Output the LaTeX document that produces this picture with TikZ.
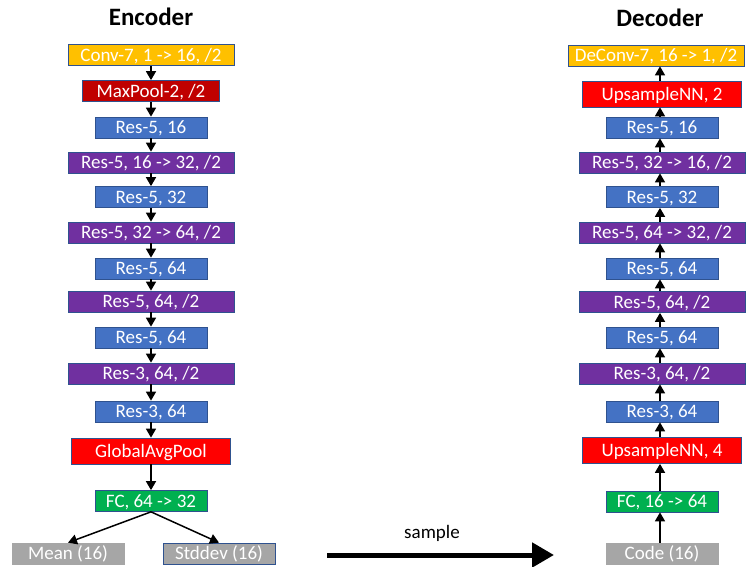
\documentclass[tikz,border=0pt]{standalone}
\usepackage{fontspec}
\setmainfont{Carlito}
\usepackage{tikz}
\usetikzlibrary{arrows.meta}
\definecolor{jaune}{RGB}{255,192,0}
\definecolor{rougef}{RGB}{192,0,0}
\definecolor{rouge}{RGB}{255,0,0}
\definecolor{bleu}{RGB}{68,114,196}
\definecolor{violet}{RGB}{112,48,160}
\definecolor{vert}{RGB}{0,176,80}
\definecolor{gris}{RGB}{166,166,166}
\definecolor{bord}{RGB}{47,82,143}
\tikzset{
  blk/.style={draw=bord, line width=0.7pt, text=white, inner sep=0pt,
    minimum height=21pt, text height=12.2pt, text depth=0pt,
    font=\fontsize{19}{20}\selectfont},
  narrow/.style={blk, minimum width=112pt},
  wide/.style={blk, minimum width=166pt},
  arr/.style={-{Triangle[length=9pt,width=10pt]}, line width=1.5pt},
  titre/.style={font=\fontsize{25}{26}\selectfont\bfseries},
}
\begin{document}
\begin{tikzpicture}[x=1pt,y=-1pt]
				\useasboundingbox (0,0) rectangle (748,567);
				% encoder
				\node[titre] (enc) at (151,17) {Encoder};
				\node[wide,fill=jaune] (conv) at (151,55) {Conv-7, 1 -> 16, /2};
				\node[blk,fill=rougef,minimum width=137pt] (pool) at (151,91) {MaxPool-2, /2};
				\node[narrow,fill=bleu] (r1) at (151,127.5) {Res-5, 16};
				\node[wide,fill=violet] (r2) at (151,162.5) {Res-5, 16 -> 32, /2};
				\node[narrow,fill=bleu] (r3) at (151,197) {Res-5, 32};
				\node[wide,fill=violet] (r4) at (151,232.5) {Res-5, 32 -> 64, /2};
				\node[narrow,fill=bleu] (r5) at (151,268.5) {Res-5, 64};
				\node[wide,fill=violet] (r6) at (151,301.5) {Res-5, 64, /2};
				\node[narrow,fill=bleu] (r7) at (151,337.5) {Res-5, 64};
				\node[wide,fill=violet] (r8) at (151,373.5) {Res-3, 64, /2};
				\node[narrow,fill=bleu] (r9) at (151,411.5) {Res-3, 64};
				\node[blk,fill=rouge,minimum width=159pt,minimum height=26pt] (gap) at (151,451) {GlobalAvgPool};
				\node[narrow,fill=vert] (fc) at (151,501) {FC, 64 -> 32};
				\node[narrow,fill=gris,draw=gris] (mean) at (68,553.5) {Mean (16)};
				\node[narrow,fill=gris] (std) at (219,553.5) {Stddev (16)};
				\foreach \a/\b in {conv/pool,pool/r1,r1/r2,r2/r3,r3/r4,r4/r5,r5/r6,r6/r7,r7/r8,r8/r9,r9/gap,gap/fc}
					\draw[arr] (\a) -- (\b);
				\draw[arr] (fc.south) -- (mean.north);
				\draw[arr] (fc.south) -- (std.north);
				% decoder
				\node[titre] (dec) at (660,18) {Decoder};
				\node[blk,fill=jaune,minimum width=176pt] (dconv) at (656,55.5) {DeConv-7, 16 -> 1, /2};
				\node[blk,fill=rouge,minimum width=159pt,minimum height=26pt] (up2) at (662,94) {UpsampleNN, 2};
				\node[narrow,fill=bleu] (d1) at (662,127.5) {Res-5, 16};
				\node[wide,fill=violet] (d2) at (662,162.5) {Res-5, 32 -> 16, /2};
				\node[narrow,fill=bleu] (d3) at (662,197) {Res-5, 32};
				\node[wide,fill=violet] (d4) at (662,232.5) {Res-5, 64 -> 32, /2};
				\node[narrow,fill=bleu] (d5) at (662,268.5) {Res-5, 64};
				\node[wide,fill=violet] (d6) at (662,302) {Res-5, 64, /2};
				\node[narrow,fill=bleu] (d7) at (662,337.5) {Res-5, 64};
				\node[wide,fill=violet] (d8) at (662,373.5) {Res-3, 64, /2};
				\node[narrow,fill=bleu] (d9) at (662,411.5) {Res-3, 64};
				\node[blk,fill=rouge,minimum width=159pt,minimum height=26pt] (up4) at (662,450.5) {UpsampleNN, 4};
				\node[narrow,fill=vert] (dfc) at (662,501.5) {FC, 16 -> 64};
				\node[narrow,fill=gris,draw=gris] (code) at (662,553.5) {Code (16)};
				\foreach \a/\b in {up2/dconv,d1/up2,d2/d1,d3/d2,d4/d3,d5/d4,d6/d5,d7/d6,d8/d7,d9/d8,up4/d9,dfc/up4,code/dfc}
					\draw[arr] ([xshift=-2pt]\a.north) -- ([xshift=-2pt]\a.north |- \b.south);
				% sample
				\coordinate (s0) at (327,555);
				\coordinate (s1) at (554,555);
				\draw[line width=5pt,-{Triangle[length=22pt,width=24pt]}] (s0) -- (s1);
				\node[font=\fontsize{19}{20}\selectfont] (smp) at (432,533) {sample};
			\end{tikzpicture}
\end{document}
